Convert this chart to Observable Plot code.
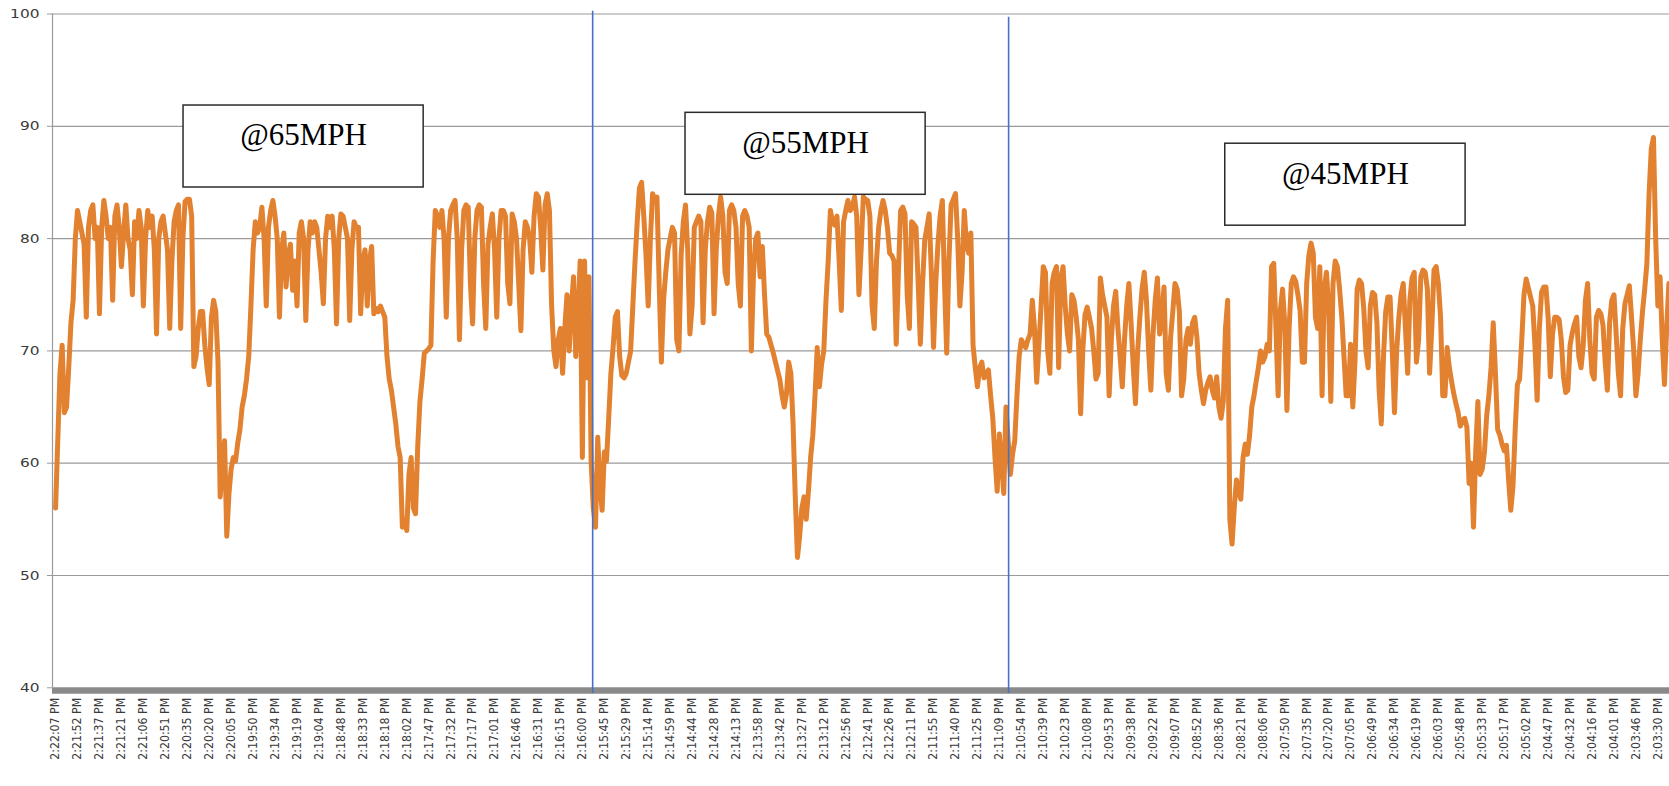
<!DOCTYPE html>
<html>
<head>
<meta charset="utf-8">
<script src="https://cdn.jsdelivr.net/npm/d3@7"></script>
<script src="https://cdn.jsdelivr.net/npm/@observablehq/plot@0.6"></script>
<style>
  html, body { margin: 0; padding: 0; background: #ffffff; }
  #chart svg { display: block; }
</style>
</head>
<body>
<div id="chart"></div>
<script>
// ---- DATA ----
// Time labels on the category axis (time running backwards)
const timeLabels = [
  "2:22:07 PM","2:21:52 PM","2:21:37 PM","2:21:21 PM","2:21:06 PM","2:20:51 PM","2:20:35 PM","2:20:20 PM","2:20:05 PM",
  "2:19:50 PM","2:19:34 PM","2:19:19 PM","2:19:04 PM","2:18:48 PM","2:18:33 PM","2:18:18 PM","2:18:02 PM",
  "2:17:47 PM","2:17:32 PM","2:17:17 PM","2:17:01 PM","2:16:46 PM","2:16:31 PM","2:16:15 PM","2:16:00 PM",
  "2:15:45 PM","2:15:29 PM","2:15:14 PM","2:14:59 PM","2:14:44 PM","2:14:28 PM","2:14:13 PM",
  "2:13:58 PM","2:13:42 PM","2:13:27 PM","2:13:12 PM","2:12:56 PM","2:12:41 PM","2:12:26 PM","2:12:11 PM",
  "2:11:55 PM","2:11:40 PM","2:11:25 PM","2:11:09 PM","2:10:54 PM","2:10:39 PM","2:10:23 PM","2:10:08 PM",
  "2:09:53 PM","2:09:38 PM","2:09:22 PM","2:09:07 PM","2:08:52 PM","2:08:36 PM","2:08:21 PM","2:08:06 PM",
  "2:07:50 PM","2:07:35 PM","2:07:20 PM","2:07:05 PM","2:06:49 PM","2:06:34 PM","2:06:19 PM","2:06:03 PM",
  "2:05:48 PM","2:05:33 PM","2:05:17 PM","2:05:02 PM","2:04:47 PM","2:04:32 PM","2:04:16 PM","2:04:01 PM",
  "2:03:46 PM","2:03:30 PM"
];

// Readings, 10 samples per label interval
const speedTrace = [
  // @65MPH section
  56, 62, 68, 70.5, 64.5, 65, 68.5, 72.5, 74.5, 80,
  82.5, 81.5, 80.5, 79.5, 73, 81, 82.5, 83, 80, 81,
  73.3, 81, 83.4, 82, 80, 81, 74.5, 82, 83, 81,
  77.5, 80.5, 83, 80, 79, 75, 81.5, 80, 82.5, 81,
  74, 80, 82.5, 81, 82, 79, 71.5, 80, 81.5, 82,
  80.5, 79, 72, 78, 81.5, 82.5, 83, 72, 80, 83.3,
  83.5, 83.5, 82, 68.6, 69.5, 72, 73.5, 73.5, 70.5, 68.5,
  67, 73, 74.5, 73.5, 69, 57, 60, 62, 53.5, 57.3,
  59.5, 60.5, 60.2, 61.8, 63, 65, 66, 67.5, 69.5, 74,
  79, 81.5, 80.5, 81, 82.8, 80, 74, 81, 82.5, 83.4,
  82, 80, 73, 79, 80.5, 75.7, 78.5, 79.5, 75.4, 78,
  74, 80.5, 81.5, 80, 72.7, 79, 81.5, 80.5, 81.5, 81,
  79, 77, 74.2, 80, 82, 81, 82, 79, 72.4, 80,
  82.2, 82, 81, 80, 72.7, 79, 81.5, 81, 81, 73.3,
  78, 79, 74, 78, 79.3, 73.3,
  73.8, 73.5, 74, 73.5,
  73, 69.5, 67.5, 66.5, 65, 63.5, 61.5, 60.5, 54.3, 55,
  54, 59, 60.5, 56, 55.5, 61.5, 65.5, 67.5, 69.8, 70,
  70.2, 70.5, 78, 82.5, 82, 81, 82.5, 80, 73, 80,
  82.5, 83, 83.4, 80, 71, 79, 82.5, 83, 82.8, 76,
  72.4, 80, 82.5, 83, 82.8, 76, 72, 79.5, 81, 82.2,
  79, 73, 80, 82.5, 82.5, 82, 76, 74.2, 82.2, 81.5,
  80, 76, 71.8, 79, 81.5, 81, 80, 77, 82, 84,
  83.7, 81, 77.2, 83, 84, 82.5, 74, 70, 68.6, 71,
  72, 68, 72, 75, 70, 74, 76.6, 69.5, 73, 78,
  60.5, 78, 67.6, 76.6, 60.2, 56, 54.3, 62.3, 58, 55.8,
  // @55MPH section
  61, 60.2, 64, 68, 70.3, 73, 73.5, 69.5, 67.8, 67.6,
  68, 69, 70, 74, 78, 81.5, 84.5, 85, 82, 78.5,
  74, 80, 84, 83.5, 83.7, 76, 69, 74.5, 77, 79,
  80, 81, 80.5, 71, 70, 78.5, 81.5, 83, 79, 71.5,
  74, 81, 81.5, 82, 81.5,
  72.5, 79, 81.5, 82.8, 82.3,
  73.3, 79, 82, 83.7, 82, 77, 76, 82.5, 83, 82.5,
  81, 76, 74, 82, 82.5, 82, 81, 70, 77, 80,
  80.5, 76.6, 79.3, 75, 71.5, 71.2, 70.5, 69.8, 69, 68.2,
  67.4, 66, 65, 66.2, 69, 68, 63.5, 57, 51.6, 53.5,
  56, 57, 55, 57.5, 60.5, 62.5, 66, 70.3, 66.8, 68.8,
  70, 74.5, 78, 82.5, 81.5, 81.2, 82, 78, 73.6, 81.5,
  82.5, 83.4, 82.5, 82.8, 83.7, 82, 75, 79, 83.7, 83.5,
  83.4, 82, 74, 72, 78, 81, 82.5, 83.4, 82.5, 81,
  78.7, 78.5, 78, 70.6, 77, 82.5, 82.8, 82.2, 75, 72,
  81.5, 81.3, 81, 76, 70.6, 76, 79.9, 81, 82.2, 77,
  70.3, 76, 79.5, 82, 83.4, 76, 69.8, 78, 83, 83.5,
  84, 80, 74, 77, 82.5, 79.5, 78.7, 80.5, 70.5, 68.5,
  66.8, 68.5, 69, 67.6, 68, 68.3, 66, 64, 60.5, 57.5,
  62.6, 60, 57.3, 65, 62, 59, 60.8, 62, 66, 69.5,
  // @45MPH section
  71, 70.6, 70.3, 71,
  71.5, 74.5, 72, 67.2, 70.5, 74,
  77.5, 77, 70, 68, 76, 77, 77.5, 68.5, 76.5, 77.5,
  74, 71.5, 70, 75, 74.5, 73, 71, 64.4, 70, 73.2,
  73.9, 73, 72, 70, 67.5, 68, 76.5, 75, 74, 73,
  66, 71, 74, 75.3, 72, 69.5, 66.8, 71, 74, 76,
  72.5, 68.5, 65.3, 70, 73, 75.5, 77, 74.5, 70, 66.5,
  71.5, 74.5, 76.5, 71.5, 73, 75.7, 68, 66.5, 71.2, 73.5,
  76, 75.5, 73.5, 66, 67.5, 71, 72, 70.6, 72.5, 73,
  71.2, 68, 66.5, 65.3, 66.5, 67.2, 67.7, 66.5, 65.8, 67.7,
  65, 64, 65.5, 72, 74.5, 55, 52.8, 56, 58.5, 57.5,
  56.8, 60.5, 61.7, 60.8, 62.5, 65, 66, 67.3, 68.5, 70,
  69, 69.5, 70.6, 70, 77.5, 77.8, 72, 66, 73.6, 75.5,
  72.5, 64.7, 72, 76, 76.6, 76.2, 75, 73.6, 69, 69,
  76, 78.5, 79.6, 78.7, 73, 72, 77.5, 66, 75.5, 77,
  74, 65.5, 76, 78, 77.5, 75.5, 73, 69.5, 66, 66,
  70.6,
  65, 69, 75.5, 76.3, 76, 73.8, 70, 68.5, 74,
  75.2, 75, 72.5, 66.5, 63.5, 69.5, 73.5, 74.8, 74.8, 70,
  64.5, 70, 73, 75, 76, 72, 68, 74.5, 76.5, 77,
  69, 71, 76.6, 77.2, 77, 75.5, 68, 72, 77.2, 77.5,
  76, 73, 66, 66, 70.3, 68.5, 67.3, 66.2, 65.3, 64.5,
  63.3, 63.8, 64, 63.2, 58.2, 60, 54.3, 61, 65.5, 59,
  59.5, 61, 64.2, 66, 68.5, 72.5, 68, 63, 62.5, 61.7,
  61.1, 61.6, 58.5, 55.8, 58, 63, 67, 67.5, 71, 75,
  76.4, 75.6, 74.8, 74, 70.5, 65.6, 72, 75.2, 75.7, 75.7,
  73, 67.7, 71.5, 73, 73, 72.8, 71, 67.7, 66.3, 66.5,
  70.5, 71.6, 72.4, 73, 69.5, 68.5, 70.5, 74.5, 76, 71,
  68, 67.5, 73, 73.6, 73.3, 72.3, 69, 66.5, 72.5, 74.5,
  75, 71.5, 68, 66, 72, 74.2, 75, 75.8, 73, 70,
  66, 68, 71, 73.5, 75.5, 77.8, 84, 88, 89, 80,
  74, 76.6, 71, 67, 72, 76, 75
];
const samplesPerLabel = 10;

const yTicks = [40, 50, 60, 70, 80, 90, 100];

// Section annotations (in axis units: label index, value)
const sectionNames = ["@65MPH", "@55MPH", "@45MPH"];
const sectionBoxX1 = [5.83, 28.70, 53.29];
const sectionBoxX2 = [16.77, 39.64, 64.24];
const sectionBoxTop = [91.85, 91.2, 88.45];
const sectionBoxBottom = [84.55, 83.9, 81.15];

// Vertical separators between the speed sections (label index, top value)
const dividerAt = [24.47, 43.42];
const dividerTop = [100.25, 99.7];

// ---- BUILD ----
const series = speedTrace.map((v, i) => ({t: i / samplesPerLabel, v}));
const boxes = sectionNames.map((name, i) => ({
  name, x1: sectionBoxX1[i], x2: sectionBoxX2[i], y1: sectionBoxBottom[i], y2: sectionBoxTop[i]
}));
const dividers = dividerAt.map((x, i) => ({x, top: dividerTop[i]}));
const ticks = timeLabels.map((label, i) => ({i, label}));

const W = 1669, H = 786;
const xDomain = [-0.14, 73.53];

const chart = Plot.plot({
  width: W,
  height: H,
  marginLeft: 52,
  marginRight: 0,
  marginTop: 13.5,
  marginBottom: H - 687.3,
  style: {fontFamily: "DejaVu Sans, sans-serif", background: "#ffffff"},
  x: {domain: xDomain, axis: null},
  y: {domain: [40, 100], label: null},
  marks: [
    Plot.gridY(yTicks, {stroke: "#9a9a9a", strokeOpacity: 1, strokeWidth: 1.2}),
    Plot.axisY(yTicks, {tickSize: 5, tickPadding: 8, fontSize: 13, fill: "#3a3a3a", stroke: "#9a9a9a", label: null}),
    Plot.ruleX([xDomain[0]], {y1: 40, y2: 100, stroke: "#9a9a9a", strokeWidth: 1.2}),
    Plot.line(series, {x: "t", y: "v", stroke: "#E2812F", strokeWidth: 5, strokeLinejoin: "round", strokeLinecap: "round"}),
    Plot.ruleY([40], {stroke: "#8a8a8a", strokeWidth: 6, dy: 3}),
    Plot.ruleX(dividers, {x: "x", y1: "top", y2: 39.5, stroke: "#4472C4", strokeWidth: 1.6}),
    Plot.rect(boxes, {x1: "x1", x2: "x2", y1: "y1", y2: "y2", fill: "#ffffff", stroke: "#2b2b2b", strokeWidth: 1.5}),
    Plot.text(boxes, {x: d => (d.x1 + d.x2) / 2, y: "y2", text: "name", dy: 30, lineAnchor: "middle",
      fontFamily: "Liberation Serif, Times New Roman, serif", fontSize: 31, fill: "#000000"}),
    Plot.text(ticks, {x: "i", y: () => 40, text: "label", rotate: -90, textAnchor: "end", lineAnchor: "middle",
      dy: 10, fontSize: 12, fill: "#3a3a3a"})
  ]
});

// Excel-like wide axis glyphs
d3.select(chart).selectAll('g[aria-label="y-axis tick label"] text').each(function() {
  const n = this.textContent.length;
  this.setAttribute("textLength", 9.8 * n);
  this.setAttribute("lengthAdjust", "spacingAndGlyphs");
});
const textGroups = d3.select(chart).selectAll('g[aria-label="text"]').nodes();
d3.select(textGroups[textGroups.length - 1]).selectAll("text").each(function() {
  this.setAttribute("textLength", 62);
  this.setAttribute("lengthAdjust", "spacingAndGlyphs");
});

document.getElementById("chart").appendChild(chart);
</script>
</body>
</html>
